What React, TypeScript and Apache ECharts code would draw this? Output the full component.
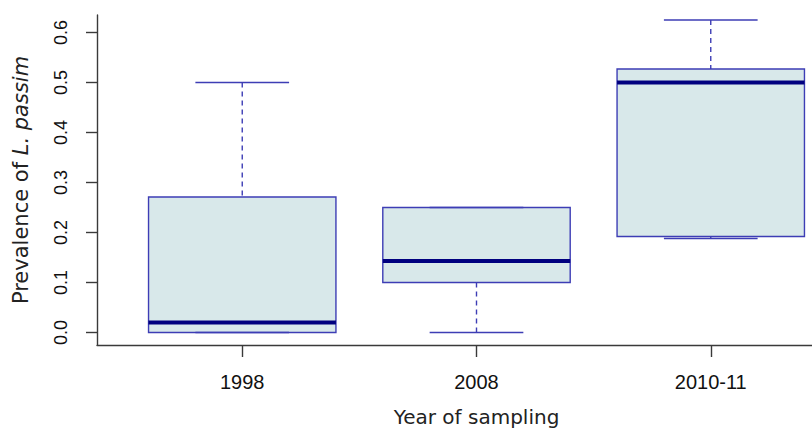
import React, { useEffect, useRef } from "react";
import * as echarts from "echarts";

const categories = ["1998", "2008", "2010-11"];
const xPositions = [1, 2, 3];
const whiskerLow = [0, 0, 0.188];
const quartile1 = [0, 0.1, 0.192];
const medians = [0.02, 0.143, 0.5];
const quartile3 = [0.271, 0.25, 0.527];
const whiskerHigh = [0.5, 0.25, 0.625];
const yTicks = [0, 0.1, 0.2, 0.3, 0.4, 0.5, 0.6];

const BOX_STROKE = "#3d3db5";
const BOX_FILL = "#d8e8ea";
const MEDIAN = "#00007f";
const AXIS = "#3a3a3a";

export default function App() {
  const ref = useRef<HTMLDivElement>(null);
  useEffect(() => {
    const chart = echarts.init(ref.current!, null, { renderer: "svg" });
    const data = categories.map((c, i) => [
      xPositions[i],
      whiskerLow[i],
      quartile1[i],
      medians[i],
      quartile3[i],
      whiskerHigh[i],
    ]);
    chart.setOption({
      animation: false,
      grid: { left: 97, top: 15, width: 759, height: 330, outerBoundsMode: "none", containLabel: false },
      xAxis: {
        type: "value",
        min: 0.38,
        max: 3.62,
        name: "Year of sampling",
        nameLocation: "middle",
        nameGap: 62,
        nameTextStyle: { fontFamily: "DejaVu Sans", fontSize: 20, color: "#222" },
        splitLine: { show: false },
        axisLine: { show: true, onZero: false, lineStyle: { color: AXIS, width: 1.4 } },
        axisTick: { show: true, customValues: xPositions, length: 12, lineStyle: { color: AXIS, width: 1.4 } },
        axisLabel: {
          customValues: xPositions,
          formatter: (v: number) => categories[Math.round(v) - 1] ?? "",
          fontFamily: "Liberation Sans",
          fontSize: 20,
          color: "#111",
          margin: 27,
        },
      },
      yAxis: {
        type: "value",
        min: -0.025,
        max: 0.635,
        name: "{n|Prevalence of }{i|L. passim}",
        nameLocation: "middle",
        nameGap: 66,
        nameRotate: 90,
        nameTextStyle: {
          color: "#222",
          rich: {
            n: { fontFamily: "DejaVu Sans", fontSize: 21, color: "#222" },
            i: { fontFamily: "DejaVu Sans", fontSize: 21, fontStyle: "italic", color: "#222" },
          },
        },
        splitLine: { show: false },
        axisLine: { show: true, onZero: false, lineStyle: { color: AXIS, width: 1.4 } },
        axisTick: { show: true, customValues: yTicks, length: 11, lineStyle: { color: AXIS, width: 1.4 } },
        axisLabel: {
          customValues: yTicks,
          formatter: (v: number) => v.toFixed(1),
          rotate: 90,
          fontFamily: "Liberation Sans",
          fontSize: 18,
          color: "#111",
          margin: 27,
        },
      },
      series: [
        {
          type: "custom",
          data,
          encode: { x: 0, y: [1, 2, 3, 4, 5] },
          renderItem: (params: any, api: any) => {
            const x = api.value(0);
            const lo = api.coord([x, api.value(1)]);
            const q1 = api.coord([x, api.value(2)]);
            const med = api.coord([x, api.value(3)]);
            const q3 = api.coord([x, api.value(4)]);
            const hi = api.coord([x, api.value(5)]);
            const w = api.size([0.8, 0])[0];
            const cx = lo[0];
            const half = w / 2;
            const cap = w / 4;
            const whiskerStyle = { stroke: BOX_STROKE, lineWidth: 1.4, lineDash: [5, 4] };
            const solid = { stroke: BOX_STROKE, lineWidth: 1.4 };
            return {
              type: "group",
              children: [
                { type: "line", shape: { x1: cx, y1: hi[1], x2: cx, y2: q3[1] }, style: whiskerStyle },
                { type: "line", shape: { x1: cx, y1: q1[1], x2: cx, y2: lo[1] }, style: whiskerStyle },
                {
                  type: "rect",
                  shape: { x: cx - half, y: q3[1], width: w, height: q1[1] - q3[1] },
                  style: { fill: BOX_FILL, stroke: BOX_STROKE, lineWidth: 1.4 },
                },
                { type: "line", shape: { x1: cx - cap, y1: hi[1], x2: cx + cap, y2: hi[1] }, style: solid },
                { type: "line", shape: { x1: cx - cap, y1: lo[1], x2: cx + cap, y2: lo[1] }, style: solid },
                {
                  type: "line",
                  shape: { x1: cx - half, y1: med[1], x2: cx + half, y2: med[1] },
                  style: { stroke: MEDIAN, lineWidth: 4 },
                },
              ],
            };
          },
        },
      ],
    });
    return () => chart.dispose();
  }, []);
  return (
    <div
      ref={ref}
      style={{ position: "absolute", left: 0, top: 0, width: 812, height: 429 }}
    />
  );
}
